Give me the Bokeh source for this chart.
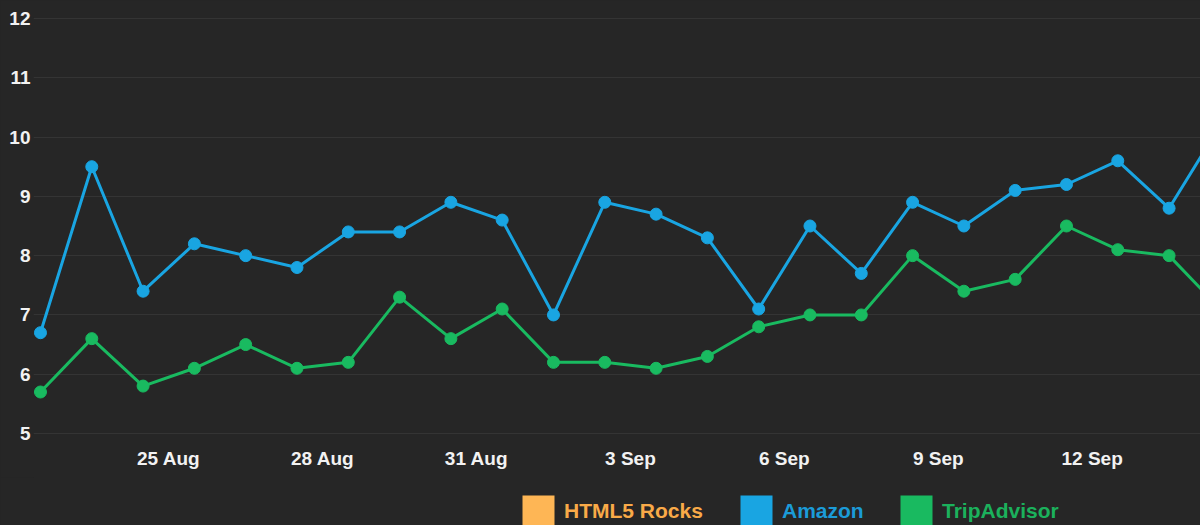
import pandas as pd
from bokeh.plotting import figure
from bokeh.layouts import column
from bokeh.models import (Range1d, FixedTicker, DatetimeTickFormatter, Legend,
                          LegendItem, ColumnDataSource)
from bokeh.embed import file_html
from bokeh.resources import INLINE

# ---------------- data ----------------
dates = [
    "2013-08-22 12:00", "2013-08-23 12:00", "2013-08-24 12:00", "2013-08-25 12:00",
    "2013-08-26 12:00", "2013-08-27 12:00", "2013-08-28 12:00", "2013-08-29 12:00",
    "2013-08-30 12:00", "2013-08-31 12:00", "2013-09-01 12:00", "2013-09-02 12:00",
    "2013-09-03 12:00", "2013-09-04 12:00", "2013-09-05 12:00", "2013-09-06 12:00",
    "2013-09-07 12:00", "2013-09-08 12:00", "2013-09-09 12:00", "2013-09-10 12:00",
    "2013-09-11 12:00", "2013-09-12 12:00", "2013-09-13 12:00", "2013-09-14 12:00",
]
amazon = [6.7, 9.5, 7.4, 8.2, 8.0, 7.8, 8.4, 8.4, 8.9, 8.6, 7.0, 8.9,
          8.7, 8.3, 7.1, 8.5, 7.7, 8.9, 8.5, 9.1, 9.2, 9.6, 8.8, 10.2]
tripadvisor = [5.7, 6.6, 5.8, 6.1, 6.5, 6.1, 6.2, 7.3, 6.6, 7.1, 6.2, 6.2,
               6.1, 6.3, 6.8, 7.0, 7.0, 8.0, 7.4, 7.6, 8.5, 8.1, 8.0, 7.1]
series_names = ["HTML5 Rocks", "Amazon", "TripAdvisor"]
tick_dates = ["2013-08-25", "2013-08-28", "2013-08-31", "2013-09-03",
              "2013-09-06", "2013-09-09", "2013-09-12"]
y_ticks = [5, 6, 7, 8, 9, 10, 11, 12]

# ---------------- style ----------------
BG = "#262626"
GRID = "#343434"
TEXT = "#f2f2f2"
FONT = "Liberation Sans"
line_colors = {"HTML5 Rocks": "#feb655", "Amazon": "#19a5e2", "TripAdvisor": "#19ba60"}
label_colors = {"HTML5 Rocks": "#f9aa48", "Amazon": "#1b9bd8", "TripAdvisor": "#1bb15c"}

x = pd.to_datetime(dates)
src = ColumnDataSource(dict(x=x, amazon=amazon, trip=tripadvisor))

p = figure(width=1200, height=477, output_backend="svg", toolbar_location=None,
           x_axis_type="datetime",
           x_range=Range1d(pd.Timestamp("2013-08-22 08:44"), pd.Timestamp("2013-09-14 02:42")),
           y_range=Range1d(5 - 1 / 59.3, 12 + 1 / 59.3),
           min_border_left=33, min_border_right=0, min_border_top=17, min_border_bottom=43)
p.background_fill_color = BG
p.border_fill_color = BG
p.outline_line_color = None
p.styles = {"background-color": BG}

# axes
p.xaxis.ticker = FixedTicker(ticks=[pd.Timestamp(d).timestamp() * 1000 for d in tick_dates])
p.xaxis.formatter = DatetimeTickFormatter(days="%-d %b", months="%-d %b", hours="%-d %b",
                                          years="%-d %b")
p.yaxis.ticker = FixedTicker(ticks=y_ticks)
for ax in (p.xaxis[0], p.yaxis[0]):
    ax.axis_line_color = None
    ax.major_tick_line_color = None
    ax.minor_tick_line_color = None
    ax.major_tick_in = 0
    ax.major_tick_out = 0
    ax.major_label_text_color = TEXT
    ax.major_label_text_font = FONT
    ax.major_label_text_font_size = "19px"
    ax.major_label_text_font_style = "bold"
p.xaxis.major_label_standoff = 13
p.yaxis.major_label_standoff = 3

p.xgrid.grid_line_color = None
p.ygrid.grid_line_color = GRID
p.ygrid.grid_line_width = 1

# series
p.line("x", "amazon", source=src, line_color=line_colors["Amazon"], line_width=3)
p.scatter("x", "amazon", source=src, size=12, fill_color=line_colors["Amazon"],
          line_color=line_colors["Amazon"])
p.line("x", "trip", source=src, line_color=line_colors["TripAdvisor"], line_width=3)
p.scatter("x", "trip", source=src, size=12, fill_color=line_colors["TripAdvisor"],
          line_color=line_colors["TripAdvisor"])

# legend strip below the chart (one legend per entry so each label keeps its colour)
lg = figure(width=1200, height=48, output_backend="svg", toolbar_location=None,
            x_range=Range1d(0, 1), y_range=Range1d(0, 1), min_border=0)
lg.axis.visible = False
lg.grid.visible = False
lg.outline_line_color = None
lg.background_fill_color = BG
lg.border_fill_color = BG
lg.styles = {"background-color": BG}

legend_x = {"HTML5 Rocks": 485, "Amazon": 703, "TripAdvisor": 863}
for name in series_names:
    swatch = lg.quad(left=[0], right=[1], top=[1], bottom=[0],
                     fill_color=line_colors[name], line_color=None, visible=False)
    leg = Legend(items=[LegendItem(label=name, renderers=[swatch])],
                 location=(legend_x[name], -6),
                 orientation="horizontal", click_policy="none",
                 glyph_width=40, glyph_height=40, label_standoff=6,
                 padding=0, margin=0, spacing=0,
                 background_fill_alpha=0, border_line_alpha=0,
                 label_text_color=label_colors[name], label_text_font=FONT,
                 label_text_font_size="21px", label_text_font_style="bold")
    lg.add_layout(leg)

layout = column(p, lg, spacing=0)
layout.styles = {"background-color": BG}
open("out.html", "w").write(file_html(layout, INLINE))
